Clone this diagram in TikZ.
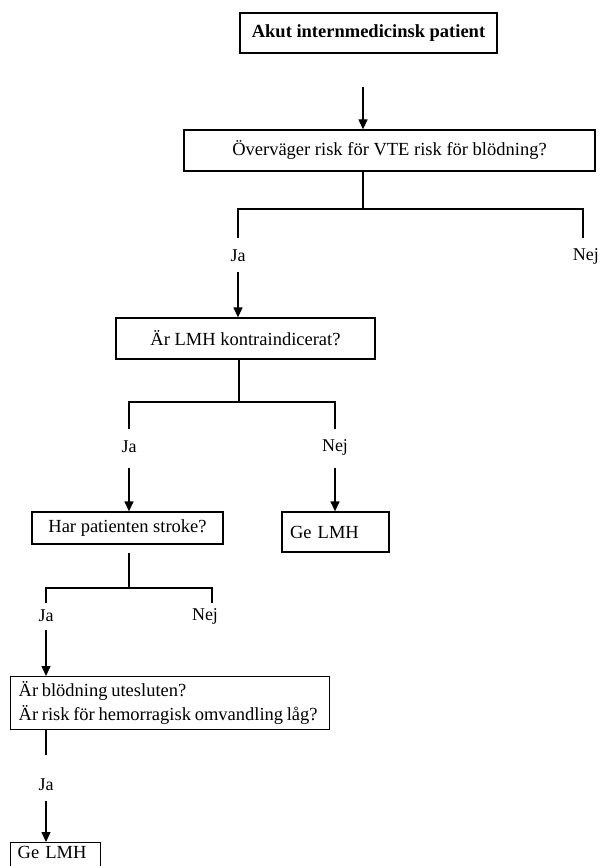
\documentclass[tikz,border=0pt]{standalone}
\usepackage{fontspec}
\setmainfont{Liberation Serif}
\usetikzlibrary{arrows.meta}
\newcommand\mytightspace{\spaceskip=0.2em\relax}
\begin{document}
\begin{tikzpicture}[x=1pt,y=-1pt,
  box/.style={draw,line width=1.3pt,inner sep=0pt,font=\fontsize{18.5}{24}\selectfont},
  lbl/.style={inner sep=0pt,font=\fontsize{18}{22}\selectfont},
  ln/.style={line width=1.3pt},
  arr/.style={line width=1.3pt,-{Triangle[width=9pt,length=10pt]}}]
\useasboundingbox (0,0) rectangle (599,866);
\clip (0,0) rectangle (599,866);
% boxes
\node[box,minimum width=257pt,minimum height=40pt,font=\fontsize{18.5}{22}\selectfont\bfseries] (b1) at (368.5,33) {Akut internmedicinsk patient};
\node[box,minimum width=411pt,minimum height=41pt] (b2) at (389.5,150.5) {Överväger risk för VTE risk för blödning?};
\node[box,minimum width=259pt,minimum height=41pt] (b3) at (245.5,338.5) {Är LMH kontraindicerat?};
\node[box,minimum width=191pt,minimum height=32pt] (b4) at (127.5,528) {Har patienten stroke?};
\node[box,minimum width=107pt,minimum height=40pt,text width=91pt,align=left] (b5) at (335.5,532) {Ge LMH};
\node[box,anchor=north west,minimum width=319pt,minimum height=53pt,inner xsep=8pt,text width=303pt,align=left] (b6) at (10,676) {\mytightspace Är blödning utesluten?\\Är risk för hemorragisk omvandling låg?};
\node[box,anchor=north west,minimum width=90pt,align=left,text width=76pt,inner ysep=3pt,text height=13pt,text depth=20pt] (b7) at (10,842) {Ge LMH};
% labels
\node[lbl] (ja1) at (238,256) {Ja};
\node[lbl,anchor=east] (nej1) at (599,256) {Nej};
\node[lbl] (ja2) at (129,447) {Ja};
\node[lbl] (nej2) at (335,447) {Nej};
\node[lbl] (ja3) at (46,616) {Ja};
\node[lbl] (nej3) at (205,616) {Nej};
\node[lbl] (ja4) at (46,785) {Ja};
% junction coordinates
\coordinate (s0) at (363,87);
\coordinate (j1) at (363,209);
\coordinate (l1) at (238,238);
\coordinate (r1) at (583,238);
\coordinate (s1) at (238,272);
\coordinate (j2) at (239,402);
\coordinate (l2) at (129,429);
\coordinate (r2) at (335,429);
\coordinate (s2) at (129,468);
\coordinate (s3) at (335,468);
\coordinate (t4) at (129,553);
\coordinate (j3) at (129,588);
\coordinate (l3) at (46,603);
\coordinate (r3) at (212,603);
\coordinate (s4) at (46,630);
\coordinate (e5) at (46,755);
\coordinate (s5) at (46,801);
% connectors
\draw[arr] (s0) -- (s0 |- b2.north);
\draw[ln] (j1 |- b2.south) -- (j1);
\draw[ln] (l1) -- (l1 |- j1) -- (r1 |- j1) -- (r1);
\draw[arr] (s1) -- (s1 |- b3.north);
\draw[ln] (j2 |- b3.south) -- (j2);
\draw[ln] (l2) -- (l2 |- j2) -- (r2 |- j2) -- (r2);
\draw[arr] (s2) -- (s2 |- b4.north);
\draw[arr] (s3) -- (s3 |- b5.north);
\draw[ln] (t4) -- (j3);
\draw[ln] (l3) -- (l3 |- j3) -- (r3 |- j3) -- (r3);
\draw[arr] (s4) -- (s4 |- b6.north);
\draw[ln] (e5 |- b6.south) -- (e5);
\draw[arr] (s5) -- (s5 |- b7.north);
\end{tikzpicture}
\end{document}
